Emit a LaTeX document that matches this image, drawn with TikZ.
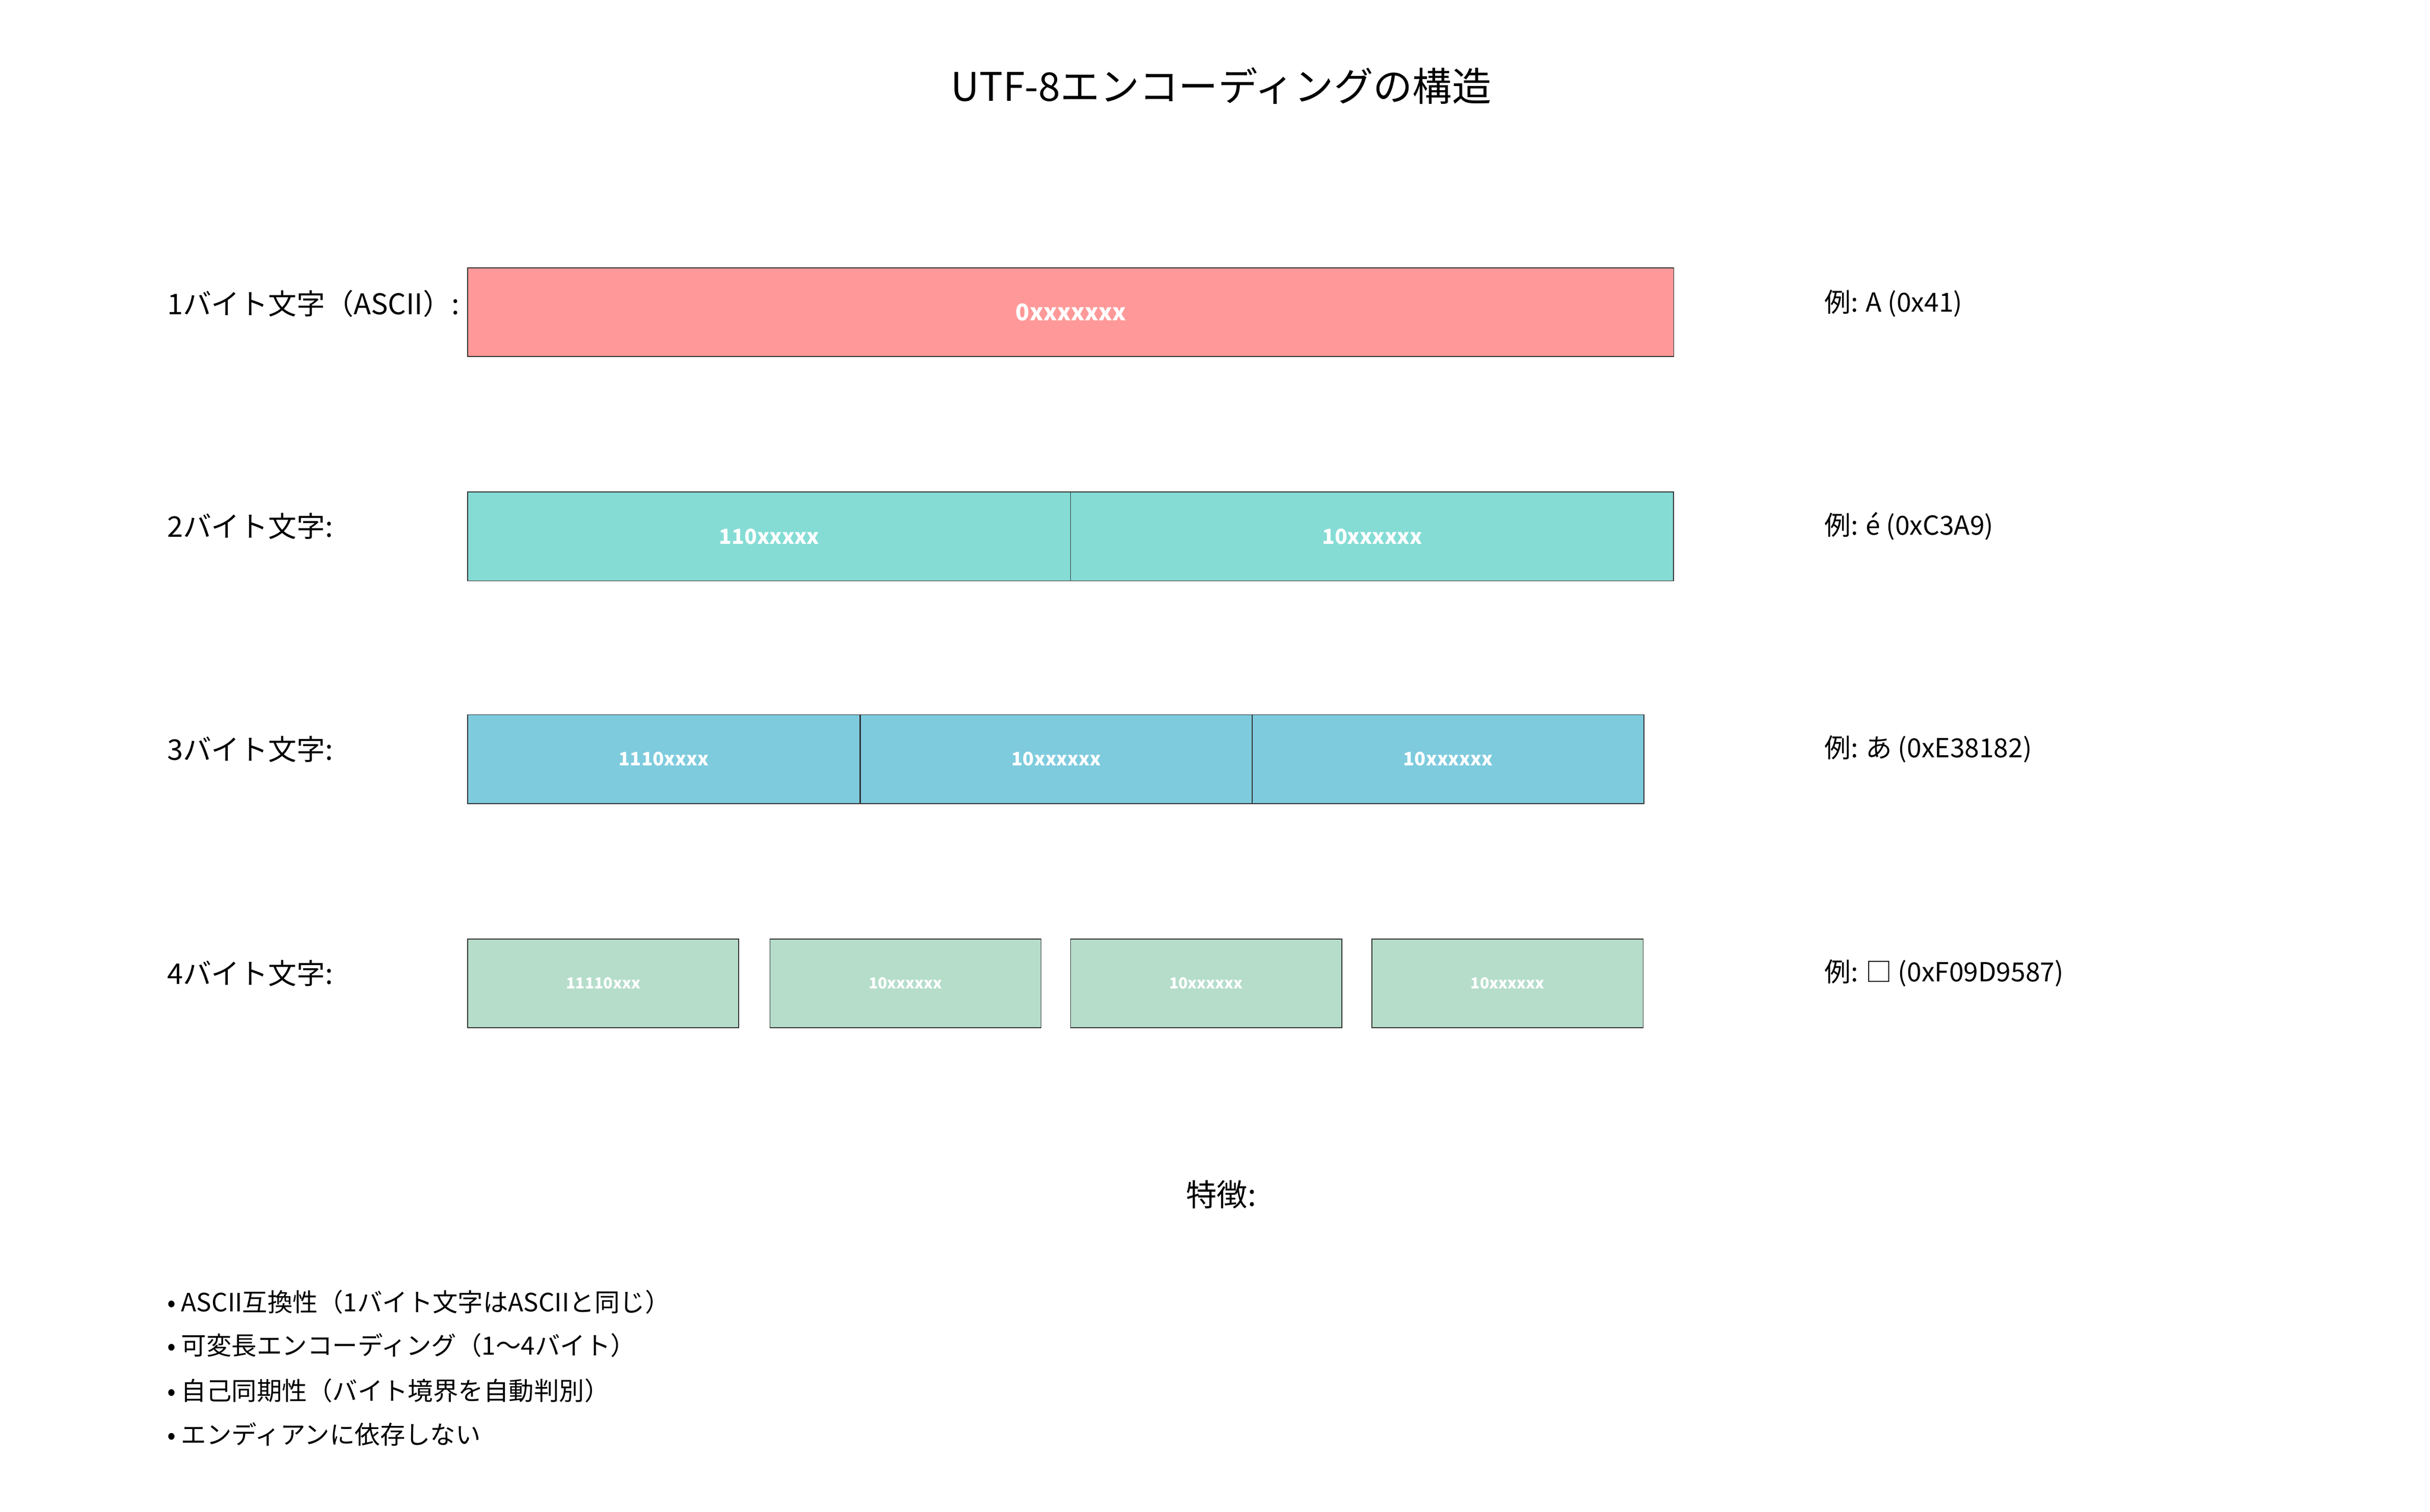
\documentclass[tikz,border=0pt]{standalone}
\usepackage{fontspec}
\setmainfont{Noto Sans CJK JP}
\usetikzlibrary{positioning}
\definecolor{rowred}{HTML}{FF9999}
\definecolor{rowteal}{HTML}{84DCD5}
\definecolor{rowblue}{HTML}{7ECBDE}
\definecolor{rowgreen}{HTML}{B5DDCA}
\tikzset{
	bytebox/.style = {draw = black!80, text = white, font = \bfseries,
		minimum height = 1.425cm, inner sep = 0pt, anchor = west},
	rowlabel/.style = {anchor = west, font = \fontsize{13}{15}\selectfont, inner sep = 0pt},
	example/.style = {anchor = west, font = \fontsize{12}{14}\selectfont, inner sep = 0pt},
	bullet/.style = {anchor = west, font = \fontsize{11.5}{14}\selectfont, inner sep = 0pt}
}

\begin{document}
\begin{tikzpicture}[x = 0.025cm, y = -0.025cm]

	% marco
	\useasboundingbox (0,0) rectangle (1560,971);

	% título
	\node[font = \fontsize{18}{22}\selectfont] (title) at (784,55) {UTF-8エンコーディングの構造};

	% 1 byte
	\node[rowlabel] (lab1) at (107,195) {1バイト文字（ASCII）:};
	\node[bytebox, fill = rowred, minimum width = 19.35cm,
		font = \bfseries\fontsize{10.5}{12}\selectfont] (b11) at (300,200.5) {0xxxxxxx};
	\node[example] (ex1) at (1171,195) {例: A (0x41)};

	% 2 bytes
	\node[rowlabel] (lab2) at (107,338) {2バイト文字:};
	\foreach \i/\x/\t in {1/300/110xxxxx, 2/687/10xxxxxx}
		\node[bytebox, fill = rowteal, minimum width = 9.675cm,
			font = \bfseries\fontsize{9.5}{11}\selectfont] (b2\i) at (\x,344.5) {\t};
	\node[example] (ex2) at (1171,338) {例: é (0xC3A9)};

	% 3 bytes
	\node[rowlabel] (lab3) at (107,481) {3バイト文字:};
	\foreach \i/\x/\t in {1/300/1110xxxx, 2/552/10xxxxxx, 3/803.5/10xxxxxx}
		\node[bytebox, fill = rowblue, minimum width = 6.29cm,
			font = \bfseries\fontsize{8.5}{10}\selectfont] (b3\i) at (\x,487.5) {\t};
	\node[example] (ex3) at (1171,481) {例: あ (0xE38182)};

	% 4 bytes
	\node[rowlabel] (lab4) at (107,625) {4バイト文字:};
	\foreach \i/\x/\t in {1/300/11110xxx, 2/494/10xxxxxx, 3/687/10xxxxxx, 4/880.5/10xxxxxx}
		\node[bytebox, fill = rowgreen, minimum width = 4.35cm,
			font = \bfseries\fontsize{7}{8}\selectfont] (b4\i) at (\x,631.5) {\t};
	\node[example] (ex4) at (1171,625) {例: □ (0xF09D9587)};

	%特徴
	\node[font = \fontsize{14}{17}\selectfont] (feat) at (784,767) {特徴:};
	\node[bullet] (f1) at (107,836) {• ASCII互換性（1バイト文字はASCIIと同じ）};
	\node[bullet] (f2) at (107,864) {• 可変長エンコーディング（1〜4バイト）};
	\node[bullet] (f3) at (107,893) {• 自己同期性（バイト境界を自動判別）};
	\node[bullet] (f4) at (107,921) {• エンディアンに依存しない};

\end{tikzpicture}
\end{document}
